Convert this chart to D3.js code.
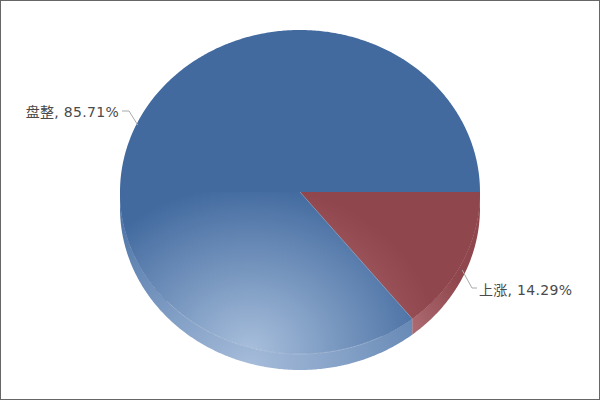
<!DOCTYPE html>
<html><head><meta charset="utf-8">
<style>html,body{margin:0;padding:0;background:#fff}svg{display:block}</style>
<script src="https://cdn.jsdelivr.net/npm/d3@7"></script></head>
<body><div id="c"></div>
<script>
const categories = ["上涨", "盘整"];
const values = [14.29, 85.71];
const baseColors = ["#8f464c", "#426a9f"];
const lightColors = ["#c07f85", "#a8bfdc"];
const rimLight = ["#ad6b72", "#a6bcda"];
const rimLightStop = [0.7, 0];
const rimDark = ["#8f464c", "#4f76a8"];
const W = 600, H = 400, cx = 300, cy = 192, rx = 180, ry = 162, depth = 16;

const svg = d3.select("#c").append("svg").attr("width", W).attr("height", H);
svg.append("rect").attr("x", .5).attr("y", .5).attr("width", W - 1).attr("height", H - 1)
  .attr("fill", "#fff").attr("stroke", "#666");

const defs = svg.append("defs");
categories.forEach((c, i) => {
  const g = defs.append("radialGradient").attr("id", "lg" + i).attr("gradientUnits", "userSpaceOnUse")
    .attr("cx", 0).attr("cy", 0).attr("r", 1)
    .attr("gradientTransform", "translate(250,350) scale(190,165)");
  g.append("stop").attr("offset", 0).attr("stop-color", lightColors[i]);
  g.append("stop").attr("offset", 1).attr("stop-color", baseColors[i]);
  const s = defs.append("radialGradient").attr("id", "sd" + i).attr("gradientUnits", "userSpaceOnUse")
    .attr("cx", 0).attr("cy", 0).attr("r", 1)
    .attr("gradientTransform", "translate(250,365) scale(240,170)");
  s.append("stop").attr("offset", rimLightStop[i]).attr("stop-color", rimLight[i]);
  s.append("stop").attr("offset", 1).attr("stop-color", rimDark[i]);
});

// Clockwise from due east
const pie = d3.pie().sort(null).startAngle(0).endAngle(2 * Math.PI).value(d => d);
const arcs = pie(values);
const pt = (a, dy = 0) => [cx + rx * Math.cos(a), cy + ry * Math.sin(a) + dy];
const line = d3.line();
const steps = (a0, a1) => { const n = Math.ceil((a1 - a0) / 0.01); return d3.range(n + 1).map(i => a0 + (a1 - a0) * i / n); };

// Rim: the face edge shifted straight down by the pie's thickness
arcs.forEach((d, i) => {
  const a0 = Math.max(d.startAngle, 0), a1 = Math.min(d.endAngle, Math.PI);
  const inner = steps(a0, a1).map(a => pt(a));
  const outer = steps(a0, a1).reverse().map(a => pt(a, depth));
  svg.append("path").attr("d", line(inner.concat(outer)) + "Z").attr("fill", `url(#sd${i})`);
});

// Slice tops: flat above the centre line, shaded below it
defs.append("clipPath").attr("id", "lower").append("rect")
  .attr("x", 0).attr("y", cy).attr("width", W).attr("height", H - cy);
arcs.forEach((d, i) => {
  const path = line([[cx, cy]].concat(steps(d.startAngle, d.endAngle).map(a => pt(a)))) + "Z";
  svg.append("path").attr("d", path).attr("fill", baseColors[i]);
  svg.append("path").attr("d", path).attr("fill", `url(#lg${i})`).attr("clip-path", "url(#lower)");
});
// Thin light edge of the face and slice seam
svg.append("path").attr("d", line(steps(1.1, 2.4).map(a => pt(a))))
  .attr("fill", "none").attr("stroke", "#fff").attr("stroke-opacity", .2);
svg.append("path").attr("d", line([[cx, cy], pt(arcs[0].endAngle)]))
  .attr("stroke", "#fff").attr("stroke-opacity", .25).attr("fill", "none");

// Labels
const labelSetup = [
  { i: 1, anchor: "end", lx: 119, ly: 117, elbow: [[122, 111], [129, 111]], lift: 8 },
  { i: 0, anchor: "start", lx: 479, ly: 295, elbow: [[477, 288], [472, 288]], lift: 0 }
];
labelSetup.forEach(l => {
  const d = arcs[l.i], mid = (d.startAngle + d.endAngle) / 2;
  const p = [cx + rx * Math.cos(mid), cy + (l.i === 0 ? ry + 18 : ry - l.lift) * Math.sin(mid)];
  svg.append("path").attr("d", line(l.elbow.concat([p]))).attr("fill", "none")
    .attr("stroke", "#aaa").attr("stroke-width", 1);
  svg.append("text").attr("x", l.lx).attr("y", l.ly).attr("text-anchor", l.anchor)
    .attr("font-family", "'DejaVu Sans','Noto Sans CJK SC',sans-serif").attr("font-size", 14)
    .attr("letter-spacing", ".3").attr("fill", "#4a4a4a")
    .text(`${categories[l.i]}, ${values[l.i].toFixed(2)}%`);
});
</script></body></html>
